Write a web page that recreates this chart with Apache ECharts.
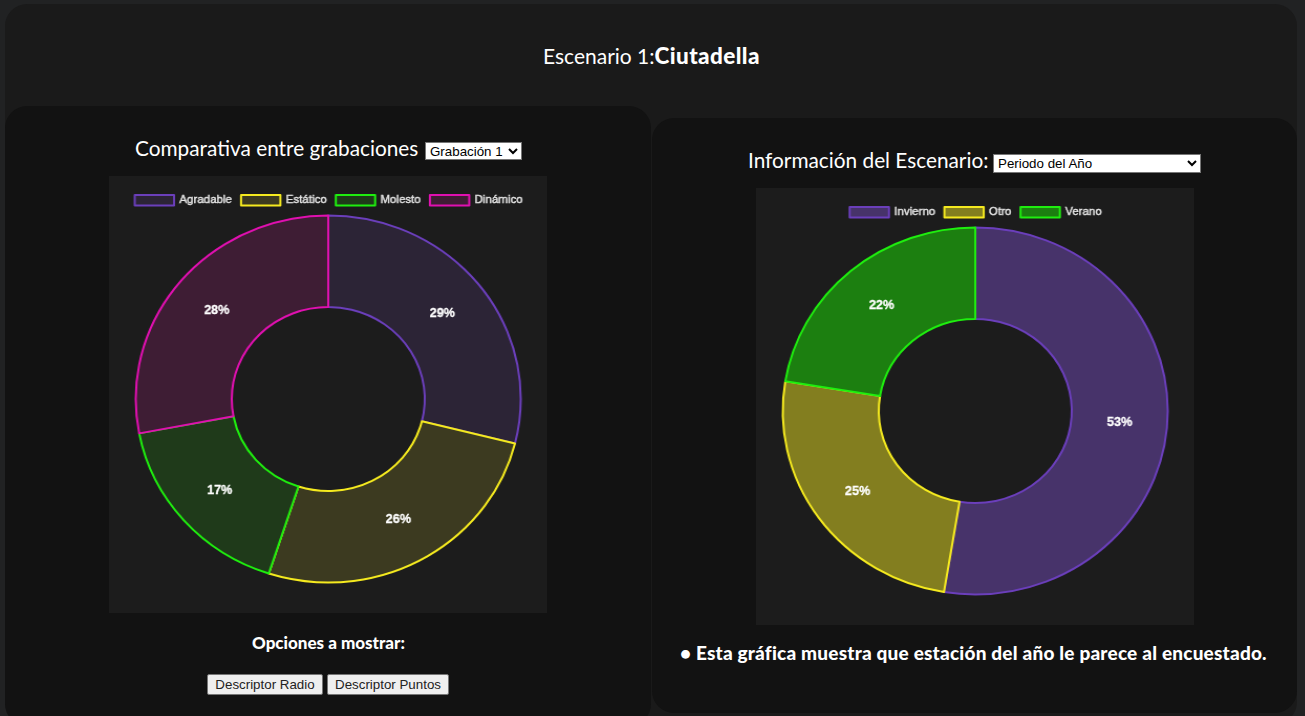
<!DOCTYPE html>
<html><head><meta charset="utf-8">
<script src="https://cdn.jsdelivr.net/npm/echarts@6/dist/echarts.min.js"></script>
<style>
html,body{margin:0;padding:0;width:1305px;height:716px;overflow:hidden;background:#212223;}
body{position:relative;font-family:Lato,sans-serif;color:#fff;}
.abs{position:absolute;}
.panel{position:absolute;background:#121212;border-radius:22px;}
#outer{left:5px;top:4px;width:1292px;height:720px;background:#1a1a1a;border-radius:22px;}
.txt{position:absolute;white-space:nowrap;line-height:1;}
.chartbox{position:absolute;width:438px;height:437px;background:#1c1c1c;overflow:hidden;}
.chart{width:418px;height:437px;transform-origin:0 0;transform:scaleX(1.049);}
select{position:absolute;font:13.33px "Liberation Sans",Arial,sans-serif;background:#fff;color:#000;border:1px solid #767676;border-radius:0;padding:0;box-sizing:border-box;}
button{position:absolute;font:13.33px "Liberation Sans",Arial,sans-serif;background:#efefef;color:#222;border:1px solid #767676;border-radius:2px;padding:0;box-sizing:border-box;}
b,.heavy{font-weight:900;}
</style></head><body>
<div id="outer" class="abs"></div>
<div class="panel" style="left:5px;top:106px;width:646px;height:620px"></div>
<div class="panel" style="left:652px;top:118px;width:645px;height:595px"></div>

<div class="txt" style="left:543px;top:45px;font-size:21px">Escenario 1:<b style="font-size:22.5px;letter-spacing:.4px">Ciutadella</b></div>
<div class="txt" style="left:135px;top:138px;font-size:20.8px">Comparativa entre grabaciones</div>
<select style="left:425px;top:142px;width:97px;height:18px"><option>Grabación 1</option></select>
<div class="chartbox" style="left:109px;top:176px"><div id="c1" class="chart"></div></div>
<div class="txt heavy" style="left:252px;top:634px;font-size:17px">Opciones a mostrar:</div>
<button style="left:207px;top:674px;width:116px;height:21px">Descriptor Radio</button>
<button style="left:327px;top:674px;width:122px;height:21px">Descriptor Puntos</button>

<div class="txt" style="left:748px;top:150px;font-size:20.8px">Información del Escenario:</div>
<select style="left:993px;top:154px;width:208px;height:19px"><option>Periodo del Año</option></select>
<div class="chartbox" style="left:756px;top:188px"><div id="c2" class="chart"></div></div>
<div class="txt heavy" style="left:680px;top:643px;font-size:19px;letter-spacing:.2px">• Esta gráfica muestra que estación del año le parece al encuestado.</div>

<script>
var recordingNames = ['Agradable','Estático','Molesto','Dinámico'];
var recordingValues = [28.9,26.1,17,28];
var recordingBorders = ['#6b3fbb','#f5ea1f','#1fee0f','#e010b0'];
var recordingFills = ['#2c2436','#3c3a20','#1f3a1a','#3e1d34'];
var seasonNames = ['Invierno','Otro','Verano'];
var seasonValues = [52.6,25,22.4];
var seasonBorders = ['#6b3fbb','#f5ea1f','#1fee0f'];
var seasonFills = ['#47336a','#837e1f','#1c7f10'];

function draw(id,names,values,borders,fills){
  var chart=echarts.init(document.getElementById(id),null,{renderer:'canvas'});
  var rows=names.map(function(n,i){return {name:n,value:values[i]};});
  chart.setOption({
    animation:false,
    backgroundColor:'transparent',
    legend:{
      top:13,left:'center',
      itemWidth:37.5,itemHeight:10.5,itemGap:7.5,
      icon:'rect',selectedMode:false,
      textStyle:{color:'#e4e4e4',fontFamily:'Liberation Sans',fontSize:11,textBorderColor:'#e4e4e4',textBorderWidth:0.4},
      data:names
    },
    series:[{
      type:'pie',
      center:[209,223],
      radius:[92,183.5],
      startAngle:90,
      legendHoverLink:false,
      emphasis:{disabled:true},
      label:{show:false},
      labelLine:{show:false},
      data:rows.map(function(r,i){
        return {name:r.name,value:r.value,
          itemStyle:{color:fills[i],borderColor:borders[i],borderWidth:2}};
      })
    },{
      type:'pie',
      silent:true,
      center:[209,223],
      radius:[92,178],
      startAngle:90,
      percentPrecision:0,
      itemStyle:{color:'transparent',borderWidth:0},
      emphasis:{disabled:true},
      label:{position:'inside',formatter:'{d}%',color:'#fff',fontFamily:'Liberation Sans',fontSize:12,fontWeight:'bold',textBorderColor:'#fff',textBorderWidth:0.3},
      labelLine:{show:false},
      data:rows
    }]
  });
}
draw('c1',recordingNames,recordingValues,recordingBorders,recordingFills);
draw('c2',seasonNames,seasonValues,seasonBorders,seasonFills);
</script>
</body></html>
